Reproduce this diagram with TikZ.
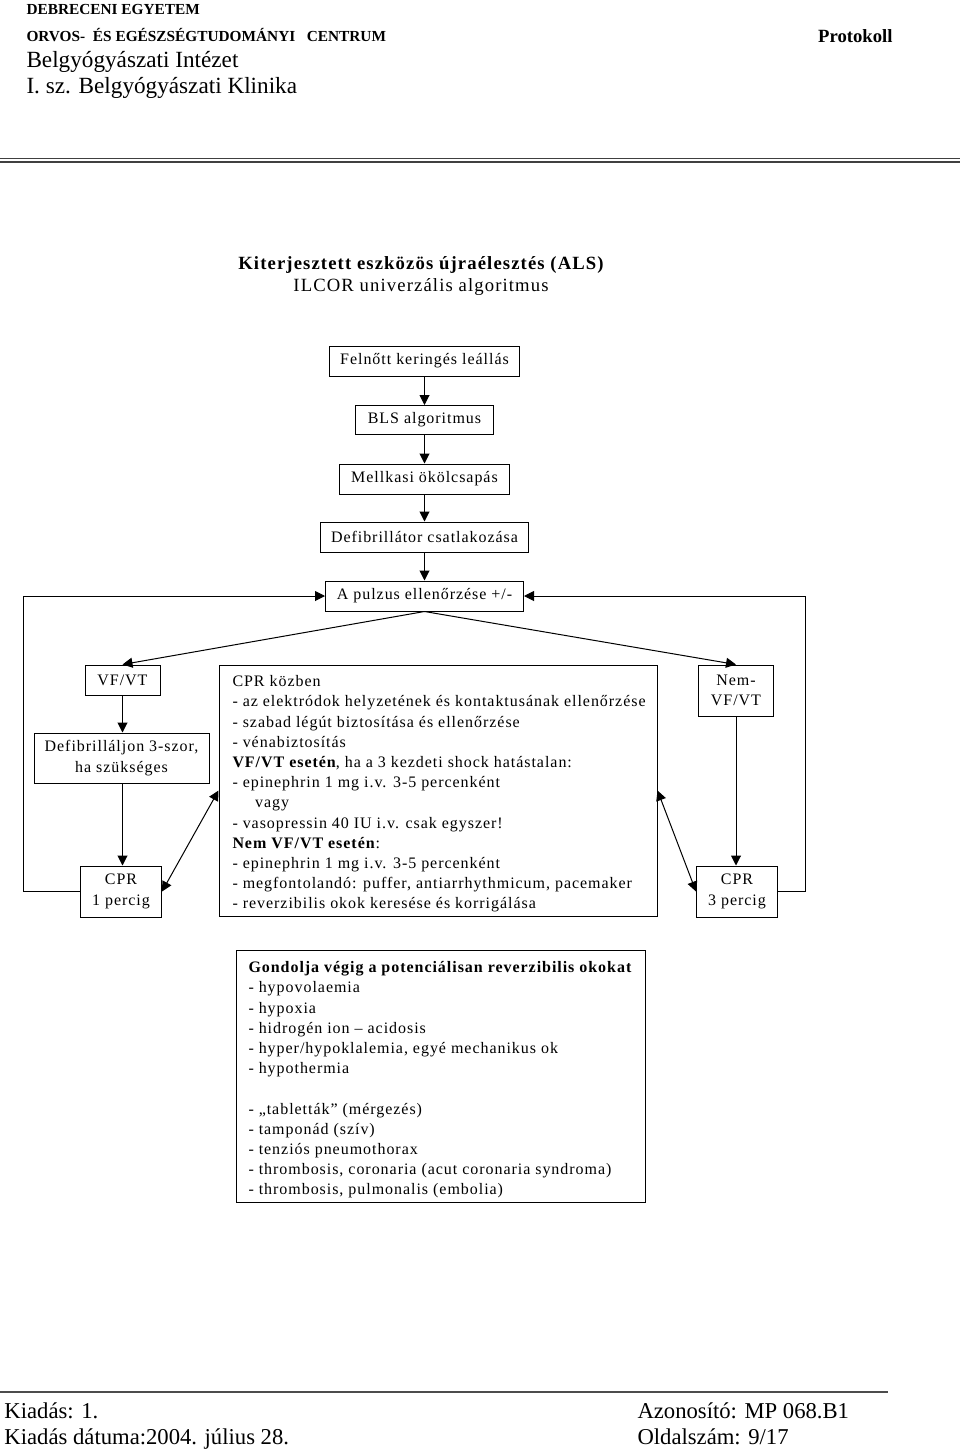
\documentclass[tikz,border=0pt]{standalone}
\usepackage{fontspec}
\setmainfont{Liberation Serif}
\newfontfamily\diagfont[LetterSpace=6]{Liberation Serif}
\usetikzlibrary{arrows.meta}
\newcommand\flowbox[5]{\node[box,minimum width=#4*0.75pt,minimum height=#5*0.75pt](#1)at(#2){#3};}

\begin{document}
\begin{tikzpicture}[x=0.75pt,y=-0.75pt,line width=0.75pt,>={Triangle[length=7.5pt,width=7.5pt]}]
% Styles for boxes, header lines and list texts
\tikzstyle{box}=[draw,inner sep=0,align=center,font=\diagfont\fontsize{12}{15.15}\selectfont];
\tikzstyle{hdr}=[anchor=base west,inner sep=0];
\tikzstyle{listtext}=[anchor=north west,inner sep=0,align=left,font=\diagfont\fontsize{12}{15.15}\selectfont];
\useasboundingbox (0,0) rectangle (960,1449);
% page header
\node[hdr,font=\bfseries\fontsize{11.5}{13}\selectfont](deb) at (26,14) {DEBRECENI EGYETEM};
\node[hdr,font=\bfseries\fontsize{11.5}{13}\selectfont](orvos) at (26,41) {ORVOS-\ \ ÉS EGÉSZSÉGTUDOMÁNYI\ \ \ CENTRUM};
\node[anchor=base east,inner sep=0,font=\bfseries\fontsize{14}{16}\selectfont](prot) at (893,42) {Protokoll};
\node[hdr,font=\fontsize{17.4}{19}\selectfont](intezet) at (26,67) {Belgyógyászati Intézet};
\node[hdr,font=\fontsize{17.4}{19}\selectfont](klinika) at (26,93) {I. sz. Belgyógyászati Klinika};
\draw[line width=1.1pt,black!75] (0,158.5) -- (960,158.5) (0,162) -- (960,162);
% title
\node[anchor=base,inner sep=0,font=\diagfont\bfseries\fontsize{14}{16}\selectfont](title) at (421,269) {Kiterjesztett eszközös újraélesztés (ALS)};
\node[anchor=base,inner sep=0,font=\diagfont\fontsize{14}{16}\selectfont](subtitle) at (421,291) {ILCOR univerzális algoritmus};
% main chain
\flowbox{felnott}{424.5,361}{Felnőtt keringés leállás}{190}{30}
\flowbox{bls}{424.5,420}{BLS algoritmus}{138}{29}
\flowbox{mellkas}{424.5,479}{Mellkasi ökölcsapás}{170}{30}
\flowbox{defib}{424.5,537}{Defibrillátor csatlakozása}{208}{30}
\flowbox{pulzus}{424.5,596}{A pulzus ellenőrzése +/-}{198}{30}
% left branch
\flowbox{vfvt}{122.5,680}{VF/VT}{75}{30}
\flowbox{defib3}{121.5,758}{Defibrilláljon 3-szor,\\ha szükséges}{175}{50}
\flowbox{cprA}{121,891.5}{CPR\\1 percig}{81}{51}
% right branch
\flowbox{nemvf}{736,690.5}{Nem-\\VF/VT}{75}{51}
\flowbox{cprB}{737,891.5}{CPR\\3 percig}{81}{51}
% CPR box in the middle
\flowbox{kozben}{438,790.5}{}{438}{251}
\node[listtext](kozbentext) at (232,675) {CPR közben\\
- az elektródok helyzetének és kontaktusának ellenőrzése\\
- szabad légút biztosítása és ellenőrzése\\
- vénabiztosítás\\
\textbf{VF/VT esetén}, ha a 3 kezdeti shock hatástalan:\\
- epinephrin 1 mg i.v. 3-5 percenként\\
\hspace*{17pt}vagy\\
- vasopressin 40 IU i.v. csak egyszer!\\
\textbf{Nem VF/VT esetén}:\\
- epinephrin 1 mg i.v. 3-5 percenként\\
- megfontolandó: puffer, antiarrhythmicum, pacemaker\\
- reverzibilis okok keresése és korrigálása};
% reversible causes
\flowbox{okok}{440.5,1076}{}{409}{252}
\node[listtext](okoktext) at (248,961) {\textbf{Gondolja végig a potenciálisan reverzibilis okokat}\\
- hypovolaemia\\
- hypoxia\\
- hidrogén ion – acidosis\\
- hyper/hypoklalemia, egyé mechanikus ok\\
- hypothermia\\[15.15pt]
- „tabletták” (mérgezés)\\
- tamponád (szív)\\
- tenziós pneumothorax\\
- thrombosis, coronaria (acut coronaria syndroma)\\
- thrombosis, pulmonalis (embolia)};
% connectors
\draw[->] (felnott) -- (bls);
\draw[->] (bls) -- (mellkas);
\draw[->] (mellkas) -- (defib);
\draw[->] (defib) -- (pulzus);
\draw[->] (pulzus.south) -- (vfvt.north);
\draw[->] (pulzus.south) -- (nemvf.north);
\draw[->] (vfvt) -- (defib3.north -| vfvt);
\draw[->] (defib3.south -| vfvt) -- (cprA.north -| vfvt);
\draw[->] (nemvf) -- (cprB.north -| nemvf);
\coordinate (lcorner) at (23,596);
\coordinate (rcorner) at (805,596);
\draw[->] (cprA.west) -| (lcorner) -- (pulzus.west);
\draw[->] (cprB.east) -| (rcorner) -- (pulzus.east);
\draw[<->] (cprA.east) -- (kozben.west);
\draw[<->] (kozben.east) -- (cprB.west);
% page footer
\draw[line width=1.1pt,black!70] (0,1392) -- (888,1392);
\node[hdr,font=\fontsize{17}{19}\selectfont](kiadas) at (4,1418) {Kiadás: 1.};
\node[hdr,font=\fontsize{17}{19}\selectfont](datum) at (4,1444) {Kiadás dátuma:2004. július 28.};
\node[hdr,font=\fontsize{17}{19}\selectfont](azon) at (637,1418) {Azonosító: MP 068.B1};
\node[hdr,font=\fontsize{17}{19}\selectfont](oldal) at (637,1444) {Oldalszám: 9/17};
\end{tikzpicture}
\end{document}
